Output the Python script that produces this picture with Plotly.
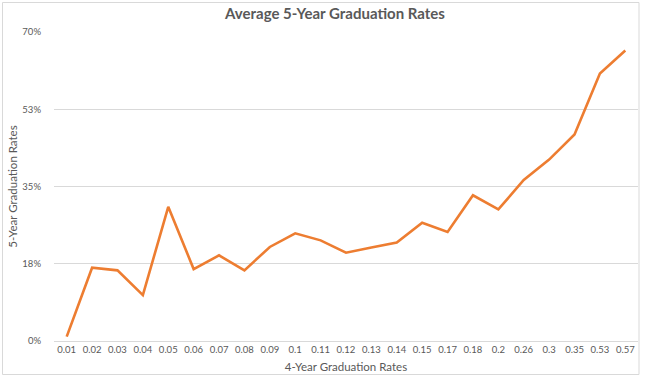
import plotly.graph_objects as go

categories = ["0.01", "0.02", "0.03", "0.04", "0.05", "0.06", "0.07", "0.08", "0.09", "0.1",
              "0.11", "0.12", "0.13", "0.14", "0.15", "0.17", "0.18", "0.2", "0.26", "0.3",
              "0.35", "0.53", "0.57"]
rates_5yr = [0.010, 0.166, 0.160, 0.104, 0.304, 0.163, 0.194, 0.160, 0.213, 0.244,
             0.228, 0.200, 0.212, 0.223, 0.268, 0.247, 0.330, 0.298, 0.365, 0.411,
             0.468, 0.606, 0.658]
y_tickvals = [0, 0.175, 0.35, 0.525, 0.7]
y_ticktext = ["0%", "18%", "35%", "53%", "70%"]

W, H = 645, 379
L, R, T, B = 54, 7, 32, 38
pw, ph = W - L - R, H - T - B

def px(x):
    return (x - L) / pw

def py(y):
    return (H - B - y) / ph

fig = go.Figure()
fig.add_trace(go.Scatter(x=categories, y=rates_5yr, mode="lines",
                         line=dict(color="#ED7D31", width=2.6), hoverinfo="x+y"))

font_family = "Lato, Noto Sans, sans-serif"
fig.update_layout(
    width=W, height=H,
    margin=dict(l=L, r=R, t=T, b=B),
    paper_bgcolor="white", plot_bgcolor="white",
    showlegend=False,
    font=dict(family=font_family, color="#595959", size=10),
    title=dict(text="<b>Average 5-Year Graduation Rates</b>", x=px(335), xref="paper",
               xanchor="center", y=1 - 14 / H, yanchor="middle",
               font=dict(size=15, color="#595959", family=font_family)),
    xaxis=dict(type="category", showgrid=False, showline=True, linecolor="#d9d9d9",
               linewidth=1, ticks="", tickfont=dict(size=9.5, color="#595959"),
               title=dict(text="4-Year Graduation Rates", standoff=8,
                          font=dict(size=11.5, color="#595959")),
               range=[-0.5, len(categories) - 0.5], zeroline=False, fixedrange=True),
    yaxis=dict(range=[0, 0.7], tickvals=y_tickvals, ticktext=y_ticktext,
               showgrid=True, gridcolor="#d9d9d9", gridwidth=1, zeroline=False,
               showline=False, ticks="", ticklabelstandoff=12,
               tickfont=dict(size=9.5, color="#595959"),
               title=dict(text="5-Year Graduation Rates", standoff=2,
                          font=dict(size=11.5, color="#595959")),
               fixedrange=True),
)

fig.add_shape(type="rect", xref="paper", yref="paper",
              x0=px(2.5), x1=px(639), y0=py(374.5), y1=py(2.5),
              line=dict(color="#d9d9d9", width=1), fillcolor="rgba(0,0,0,0)", layer="below")

fig.write_html("out.html")
